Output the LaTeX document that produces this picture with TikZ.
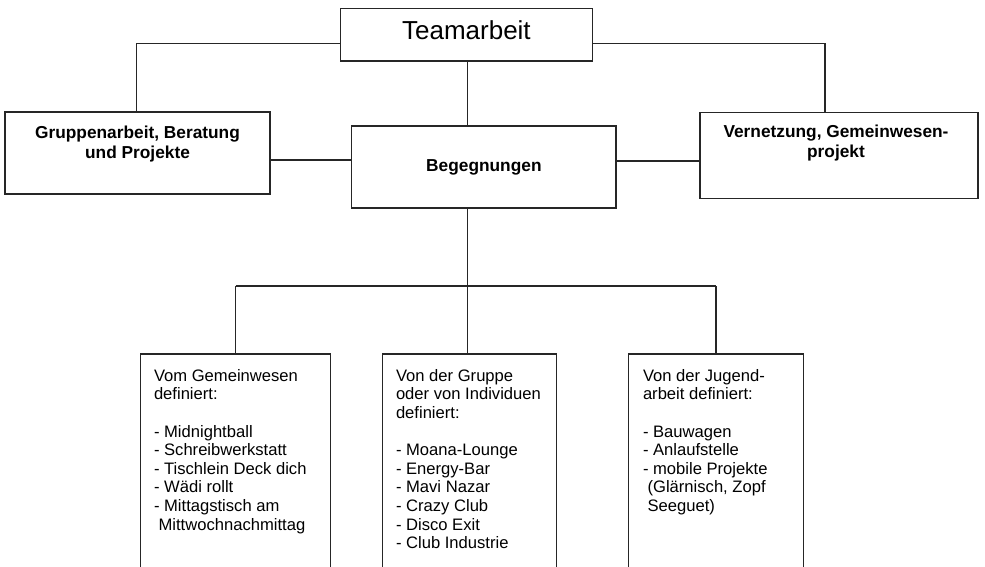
\documentclass[tikz,border=0pt]{standalone}
\usepackage{fontspec}
\setmainfont{Liberation Sans}
\begin{document}
\begin{tikzpicture}[x=1pt,y=-1pt,
  box/.style={draw=black!85,line width=1.2pt,rectangle,inner sep=0pt},
  openbox/.style={rectangle,inner sep=0pt,draw=none},
  conn/.style={draw=black!85,line width=1.2pt},
  bodytext/.style={inner sep=0pt,align=left,font=\fontsize{16.6}{18.6}\selectfont},
  headtext/.style={inner sep=0pt,align=center,font=\bfseries\fontsize{17.3}{20}\selectfont}]
\useasboundingbox[fill=white] (0,0) rectangle (985,567);

% top row boxes
\node[box,minimum width=252pt,minimum height=52.7pt] (team) at (466.7,34.7) {};
\node[anchor=base,inner sep=0pt,font=\fontsize{26}{30}\selectfont] (teamtxt) at (466.4,40) {Teamarbeit};

\node[box,minimum width=265pt,minimum height=82pt] (left) at (137.5,153) {};
\node[headtext,anchor=north] (lefttxt) at (137.5,125.6) {Gruppenarbeit, Beratung\\und Projekte};

\node[box,minimum width=264.3pt,minimum height=82pt,font=\bfseries\fontsize{17.3}{20}\selectfont] (beg) at (483.9,167) {Begegnungen};

\node[box,minimum width=278pt,minimum height=86pt] (right) at (839,155.5) {};
\node[headtext,anchor=north] (righttxt) at (836,124.6) {Vernetzung, Gemeinwesen-\\projekt};

% bottom boxes (open at the bottom edge)
\node[openbox,minimum width=189pt,minimum height=240pt,anchor=north] (b1) at (235.5,354) {};
\node[openbox,minimum width=173pt,minimum height=240pt,anchor=north] (b2) at (469.5,354) {};
\node[openbox,minimum width=174pt,minimum height=240pt,anchor=north] (b3) at (716,354) {};
\foreach \b in {b1,b2,b3}{
  \draw[conn] (\b.south west) -- (\b.north west) -- (\b.north east) -- (\b.south east);
}

\node[bodytext,anchor=north west] (t1) at ([xshift=13pt,yshift=-15pt]b1.north west)
  {Vom Gemeinwesen\\definiert:\\[18.6pt]- Midnightball\\- Schreibwerkstatt\\- Tischlein Deck dich\\- Wädi rollt\\- Mittagstisch am\\\hspace*{4.6pt}Mittwochnachmittag};
\node[bodytext,anchor=north west] (t2) at ([xshift=13pt,yshift=-15pt]b2.north west)
  {Von der Gruppe\\oder von Individuen\\definiert:\\[18.6pt]- Moana-Lounge\\- Energy-Bar\\- Mavi Nazar\\- Crazy Club\\- Disco Exit\\- Club Industrie};
\node[bodytext,anchor=north west] (t3) at ([xshift=14pt,yshift=-15pt]b3.north west)
  {Von der Jugend-\\arbeit definiert:\\[18.6pt]- Bauwagen\\- Anlaufstelle\\- mobile Projekte\\\hspace*{4.6pt}(Glärnisch, Zopf\\\hspace*{4.6pt}Seeguet)};

% connectors
\coordinate (tl) at ([yshift=-8.6pt]team.west);
\coordinate (tr) at ([yshift=-8.6pt]team.east);
\draw[conn] (tl) -| ([xshift=-0.8pt]left.north);
\draw[conn] (tr) -| ([xshift=-14pt]right.north);
\draw[conn] ([xshift=1pt]team.south) -- ([xshift=1pt]team.south |- beg.north);

\coordinate (lc) at ([yshift=-7pt]left.east);
\draw[conn] (lc) -- (lc -| beg.west);
\coordinate (rc) at ([yshift=6pt]beg.east);
\draw[conn] (rc) -- (rc -| right.west);

\coordinate (bus) at (467.7,286);
\draw[conn] (bus |- beg.south) -- (bus);
\draw[conn] (b1.north |- bus) -- (b3.north |- bus);
\draw[conn] (b1.north |- bus) -- (b1.north);
\draw[conn] (bus) -- (bus |- b2.north);
\draw[conn] (b3.north |- bus) -- (b3.north);
\end{tikzpicture}
\end{document}
